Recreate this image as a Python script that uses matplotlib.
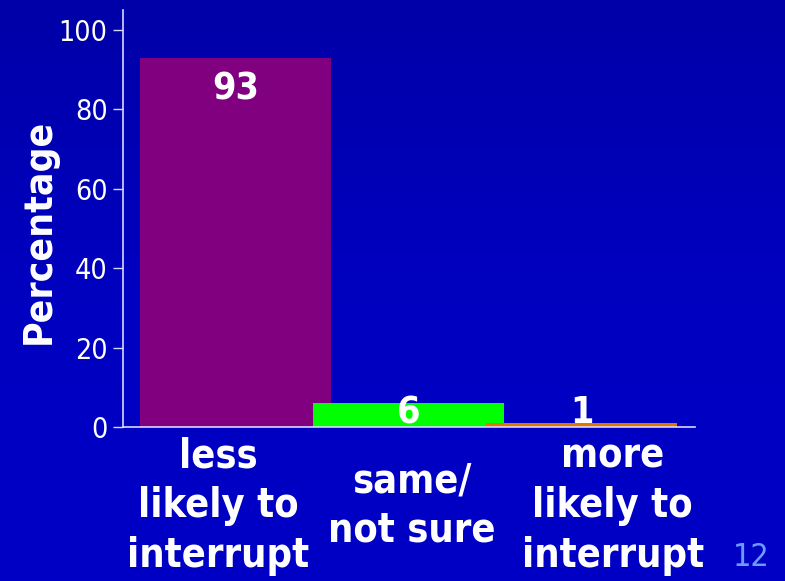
import numpy as np
import matplotlib
matplotlib.use("Agg")
import matplotlib.pyplot as plt
from matplotlib.colors import LinearSegmentedColormap

categories = ["less\nlikely to\ninterrupt", "same/\nnot sure", "more\nlikely to\ninterrupt"]
values = [93, 6, 1]
colors = ["#800080", "#00FF00", "#E07800"]
label_shift = [-0.1, 0.02, 0.18]   # category text sits a bit off the bar centres

plt.rcParams["font.family"] = "DejaVu Sans"
plt.rcParams["font.stretch"] = "condensed"

fig = plt.figure(figsize=(7.85, 5.81), dpi=100)

# blue slide background
bg = fig.add_axes([0, 0, 1, 1], zorder=0)
cmap = LinearSegmentedColormap.from_list("slide", ["#0000C6", "#0000C0", "#0000A8"])
bg.imshow(np.linspace(0, 1, 256).reshape(-1, 1), aspect="auto", cmap=cmap,
          extent=[0, 1, 0, 1], origin="lower")
bg.axis("off")

ax = fig.add_axes([0.1567, 0.265, 0.7287, 0.7177], zorder=1)
ax.patch.set_alpha(0)

x = np.arange(len(values))
ax.bar(x, values, width=1.1, color=colors)

for xi, v in zip(x, values):
    y = v - 10.6 if v > 20 else 1
    ax.text(xi, y, str(v), ha="center", va="baseline", color="white",
            fontsize=27, fontweight="bold")

ax.set_xlim(-0.65, 2.656)
ax.set_ylim(0, 105)
ax.set_yticks([0, 20, 40, 60, 80, 100])
ax.set_xticks(x + np.array(label_shift))
ax.set_xticklabels(categories, fontsize=28.5, fontweight="bold", color="white",
                   va="center", linespacing=1.3)
ax.tick_params(axis="x", length=0, pad=57)
ax.tick_params(axis="y", colors="#D8D8FF", labelcolor="white", labelsize=20.5,
               length=7, width=1, pad=4)

for s in ["top", "right"]:
    ax.spines[s].set_visible(False)
for s in ["left", "bottom"]:
    ax.spines[s].set_color("#D8D8FF")
    ax.spines[s].set_linewidth(1.2)

ax.set_ylabel("Percentage", fontsize=28, fontweight="bold", color="white",
              labelpad=1, y=0.47)

fig.text(0.957, 0.041, "12", color="#6A9CFF", fontsize=23, ha="center", va="center")

fig.savefig("out.png", dpi=100)
